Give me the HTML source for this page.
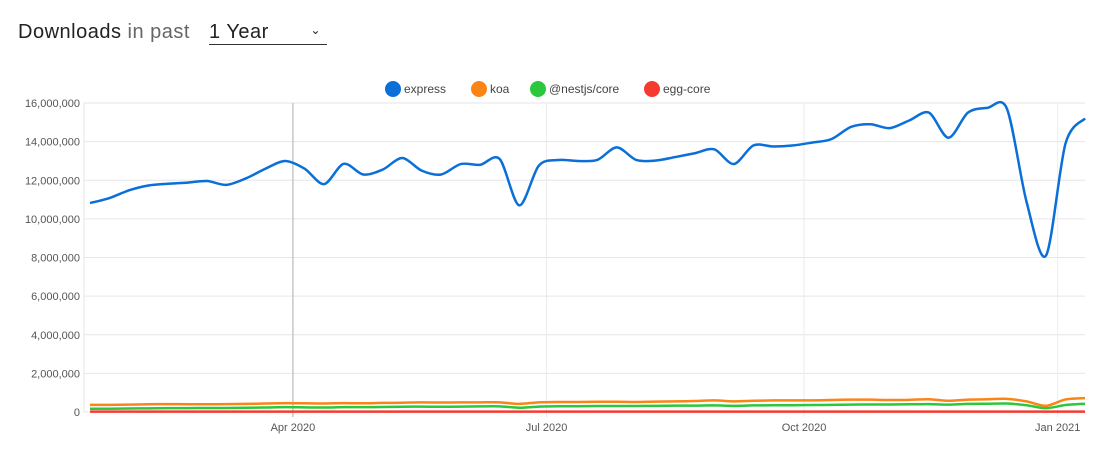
<!DOCTYPE html>
<html><head><meta charset="utf-8"><style>
body{margin:0;background:#fff;width:1120px;height:463px;overflow:hidden;font-family:"Liberation Sans",sans-serif}
#hdr{position:absolute;left:18px;top:21px;font-size:20px;color:#222;letter-spacing:0.5px}
#hdr .light{color:#666}
#sel{position:absolute;left:209px;top:21px;width:118px;height:23px;border-bottom:1px solid #333;font-size:20px;color:#222;letter-spacing:0.5px}
#sel .car{position:absolute;right:6px;top:2px;font-size:12px}
svg{position:absolute;left:0;top:0}
</style></head><body>
<div id="hdr"><b style="font-weight:normal">Downloads</b> <span class="light">in past</span></div>
<div id="sel">1 Year<span class="car">⌄</span></div>
<svg id="chart" width="1120" height="463"></svg>
<script>
const seriesNames=["express","koa","@nestjs/core","egg-core"];
const seriesColors=["#0a6fd8","#fb8417","#2bc73c","#f53b30"];
const express=[10.82,11.08,11.48,11.73,11.82,11.88,11.96,11.76,12.1,12.6,13.0,12.6,11.8,12.85,12.3,12.55,13.15,12.5,12.3,12.84,12.8,13.1,10.7,12.75,13.05,13.0,13.05,13.7,13.05,13.02,13.2,13.4,13.6,12.84,13.8,13.75,13.8,13.95,14.13,14.76,14.9,14.7,15.1,15.5,14.2,15.5,15.75,15.7,10.9,8.1,13.9,15.2];
const koa=[0.37,0.37,0.38,0.4,0.41,0.4,0.4,0.41,0.42,0.44,0.46,0.45,0.44,0.46,0.45,0.47,0.48,0.5,0.49,0.5,0.5,0.5,0.42,0.5,0.52,0.52,0.53,0.53,0.52,0.54,0.55,0.57,0.6,0.55,0.58,0.6,0.6,0.6,0.62,0.64,0.64,0.62,0.63,0.66,0.58,0.64,0.66,0.68,0.55,0.32,0.65,0.72];
const nestjs=[0.17,0.17,0.18,0.19,0.2,0.2,0.21,0.21,0.22,0.23,0.25,0.24,0.23,0.25,0.25,0.26,0.27,0.28,0.27,0.28,0.29,0.29,0.22,0.28,0.3,0.3,0.31,0.31,0.31,0.32,0.33,0.33,0.34,0.32,0.34,0.35,0.35,0.36,0.37,0.38,0.39,0.39,0.4,0.41,0.38,0.42,0.43,0.44,0.35,0.2,0.36,0.43];
const eggcore=new Array(52).fill(0.02);
const yTicks=[0,2,4,6,8,10,12,14,16];
const yTickLabels=["0","2,000,000","4,000,000","6,000,000","8,000,000","10,000,000","12,000,000","14,000,000","16,000,000"];
const xTickLabels=["Apr 2020","Jul 2020","Oct 2020","Jan 2021"];
const xTickWeeks=[10.4,23.4,36.6,49.6];

const svg=document.getElementById('chart');
const NS='http://www.w3.org/2000/svg';
const X0=90,X1=1085,Y0=412,Y1=103;
const xs=i=>X0+i*(X1-X0)/(express.length-1);
const ys=v=>Y0-v/16*(Y0-Y1);
function mk(t,a){const e=document.createElementNS(NS,t);for(const k in a)e.setAttribute(k,a[k]);svg.appendChild(e);return e;}
yTicks.forEach((v,i)=>{
  const l=mk('line',{x1:X0-6,x2:X1,y1:ys(v),y2:ys(v),stroke:'#e6e6e6','stroke-width':1});
  
  
  const t=mk('text',{x:X0-10,y:ys(v)+4,'text-anchor':'end','font-size':11,fill:'#555'});
  t.textContent=yTickLabels[i];
  
  
});
mk('line',{x1:X0-6,x2:X0-6,y1:Y1,y2:Y0,stroke:'#e6e6e6'});
xTickWeeks.forEach((w,i)=>{
  const x=xs(w);
  const l=mk('line',{x1:x,x2:x,y1:Y1,y2:Y0+5,stroke:i==0?'#c8c8c8':'#ececec','stroke-width':i==0?1.5:1});
  
  
  const t=mk('text',{x:x,y:Y0+19,'text-anchor':'middle','font-size':11,fill:'#555'});
  t.textContent=xTickLabels[i];
  
  
});
function path(vals){
  const p=vals.map((v,i)=>[xs(i),ys(v)]);
  let d='M'+p[0][0]+','+p[0][1];
  for(let i=0;i<p.length-1;i++){
    const a=p[Math.max(0,i-1)],b=p[i],c=p[i+1],e=p[Math.min(p.length-1,i+2)];
    const t=0.15;
    d+=' C'+(b[0]+(c[0]-a[0])*t)+','+(b[1]+(c[1]-a[1])*t)+' '+(c[0]-(e[0]-b[0])*t)+','+(c[1]-(e[1]-b[1])*t)+' '+c[0]+','+c[1];
  }
  return d;
}
const all=[express,koa,nestjs,eggcore];
[3,2,1,0].forEach(k=>{
  const l=mk('path',{d:path(all[k]),fill:'none',stroke:seriesColors[k],'stroke-width':2.5});
  
  
});
const legX=[393,479,538,652];
seriesNames.forEach((n,k)=>{
  const c=mk('circle',{cx:legX[k],cy:89,r:8,fill:seriesColors[k]});
  
  
  const t=mk('text',{x:legX[k]+11,y:93,'font-size':12,fill:'#444'});
  t.textContent=n;
  
  
});
</script>
</body></html>
